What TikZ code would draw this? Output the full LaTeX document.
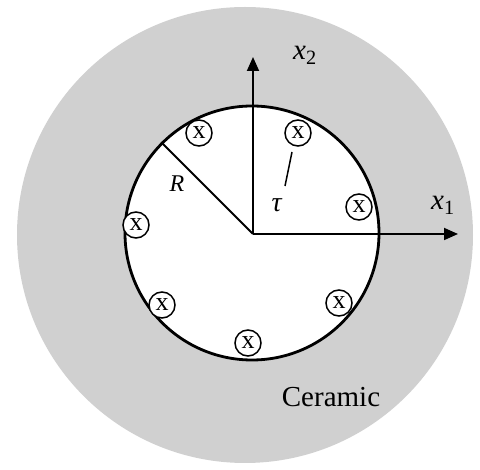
\documentclass[tikz,border=0pt]{standalone}
\usepackage{fontspec}
\setmainfont{Liberation Serif}
\usetikzlibrary{arrows.meta}
\definecolor{ceramic}{RGB}{208,208,208}
\tikzset{
  axis/.style={line width=1.8pt, -{Triangle[length=14pt,width=12pt]}},
  mark x/.style={circle, draw, fill=white, line width=1.5pt, inner sep=0pt, minimum size=26pt, font=\fontsize{26}{26}\selectfont},
  lbl/.style={inner sep=0pt}
}
\begin{document}
\begin{tikzpicture}[x=1pt,y=-1pt]
\useasboundingbox (0,0) rectangle (480,470);
\fill[white] (0,0) rectangle (480,470);
\node[circle, fill=ceramic, minimum size=456pt, inner sep=0pt] (disk) at (245,235) {};
\node[circle, draw, fill=white, line width=2.8pt, minimum size=254pt, inner sep=0pt] (C) at (252,233) {};
\coordinate (O) at (253,234);
\coordinate (t2) at (253,57);
\coordinate (t1) at (458,234);
\draw[axis] (O) -- (t2);
\draw[axis] (O) -- (t1);
\draw[line width=1.8pt] (O) -- (C.135);
\node[mark x] (m1) at (199,133) {x};
\node[mark x] (m2) at (298,133) {x};
\node[mark x] (m3) at (359,207) {x};
\node[mark x] (m4) at (136,225) {x};
\node[mark x] (m5) at (162,305) {x};
\node[mark x] (m6) at (339,303) {x};
\node[mark x] (m7) at (248,343) {x};
\coordinate (ta) at (292,152);
\coordinate (tb) at (285,186);
\draw[line width=1.5pt] (ta) -- (tb);
\node[lbl, font=\fontsize{24}{24}\selectfont] (R) at (177,184) {\textit{R}};
\node[lbl, font=\fontsize{28}{28}\selectfont] (tau) at (277,205) {\textit{τ}};
\node[lbl, font=\fontsize{29}{29}\selectfont] (x2) at (305,55) {\textit{x}\textsubscript{2}};
\node[lbl, font=\fontsize{29}{29}\selectfont] (x1) at (443,205) {\textit{x}\textsubscript{1}};
\node[lbl, font=\fontsize{29}{29}\selectfont] (cer) at (331,397) {Ceramic};
\end{tikzpicture}
\end{document}
